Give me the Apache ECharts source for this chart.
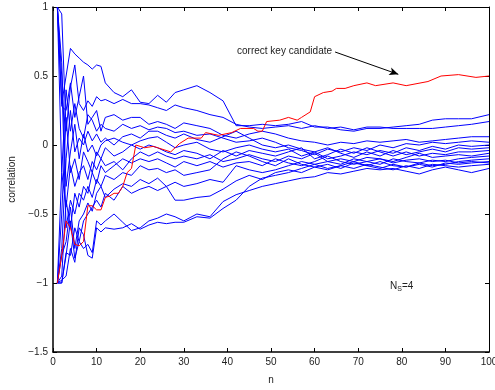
<!DOCTYPE html>
<html>
<head>
<meta charset="utf-8">
<script src="https://cdn.jsdelivr.net/npm/echarts@6/dist/echarts.min.js"></script>
<style>
html,body{margin:0;padding:0;background:#fff;}
#chart{width:495px;height:390px;}
</style>
</head>
<body>
<div id="chart"></div>
<script>
// shared n grid for the blue (wrong key) candidates
const nGrid = [1,2,3,4,5,6,7,8,9,10,11,12,14,16,18,20,22,24,26,28,30,33,36,39,42,45,48,51,54,57,60,63,66,69,72,75,78,81,84,87,90,93,96,100];

const blue1 = [1,0.3,0.5,0.7,0.66,0.63,0.6,0.58,0.55,0.58,0.57,0.45, 0.38,0.35,0.4,0.31,0.3,0.36,0.31,0.38,0.4, 0.43,0.38,0.32,0.14,0.14,0.15,0.14,0.15,0.17,0.13,0.13,0.11,0.1,0.12,0.12,0.13,0.14,0.15,0.18,0.19,0.19,0.19,0.22];
const blue2 = [1,0.95,0.1,0.42,0.58,0.3,0.25,0.32,0.28,0.35,0.32,0.33, 0.3,0.33,0.3,0.3,0.29,0.27,0.25,0.29,0.27, 0.25,0.22,0.2,0.15,0.13,0.12,0.13,0.14,0.12,0.14,0.12,0.13,0.11,0.13,0.13,0.12,0.12,0.12,0.12,0.13,0.14,0.15,0.17];
const blue3 = [1,0.28,0.25,0.45,0.2,0.35,0.5,0.15,0.2,0.25,0.1,0.2, 0.22,0.18,0.2,0.2,0.15,0.17,0.15,0.12,0.16, 0.14,0.12,0.07,0.05,0.08,0.1,0.08,0.05,0.03,0.02,0.0,0.02,0.01,0.03,0.02,0.03,0.04,0.02,0.03,0.04,0.05,0.06,0.06];
const blue4 = [-1,-0.2,0.4,0.1,0.3,0.12,0.05,0.22,0.18,0.1,0.15,0.12, 0.1,0.15,0.12,0.14,0.11,0.13,0.12,0.09,0.1, 0.07,0.08,0.05,0.02,0.03,0.05,0.02,-0.02,-0.04,-0.07,-0.03,-0.05,-0.02,-0.04,0.0,-0.02,0.01,0.0,0.02,0.01,0.02,0.03,0.02];
const blue5 = [-1,-0.75,-0.1,0.25,-0.05,0.05,0.0,0.1,0.03,0.08,0.02,0.05, 0.0,0.06,0.08,0.05,0.1,0.1,0.07,0.05,0.08, 0.04,0.02,0.06,0.1,0.05,0.0,-0.02,0.0,-0.03,-0.05,-0.1,-0.08,-0.05,-0.07,-0.04,-0.06,-0.02,-0.04,-0.01,-0.03,0.0,-0.01,0.0];
const blue6 = [1,0.6,-0.3,-0.05,0.15,-0.1,0.08,-0.05,0.0,-0.08,0.0,0.03, 0.05,0.02,0.0,0.03,0.05,0.06,0.02,-0.02,0.0, 0.02,-0.03,-0.05,-0.02,0.0,-0.03,-0.05,-0.03,-0.08,-0.05,-0.02,-0.06,-0.09,-0.05,-0.08,-0.04,-0.07,-0.05,-0.03,-0.05,-0.02,-0.03,-0.02];
const blue7 = [-1,-0.5,0.2,-0.2,-0.1,-0.25,-0.05,-0.12,-0.2,-0.05,-0.1,-0.02, -0.08,-0.05,0.0,-0.03,0.0,-0.02,-0.05,-0.07,-0.04, -0.06,-0.1,-0.04,-0.08,-0.04,-0.06,-0.08,-0.05,-0.02,-0.1,-0.07,-0.03,-0.06,-0.02,-0.05,-0.08,-0.05,-0.08,-0.06,-0.07,-0.05,-0.05,-0.04];
const blue8 = [1,-0.2,-0.45,-0.15,-0.3,-0.2,-0.15,-0.25,-0.12,-0.18,-0.1,-0.15, -0.12,-0.18,-0.1,-0.05,-0.08,-0.05,-0.08,-0.1,-0.08, -0.1,-0.07,-0.12,-0.1,-0.07,-0.1,-0.12,-0.08,-0.1,-0.06,-0.12,-0.1,-0.12,-0.09,-0.1,-0.12,-0.09,-0.06,-0.09,-0.08,-0.07,-0.08,-0.06];
const blue9 = [-1,-0.95,-0.4,-0.6,-0.35,-0.45,-0.3,-0.35,-0.2,-0.28,-0.15,-0.2, -0.15,-0.1,-0.13,-0.1,-0.12,-0.1,-0.13,-0.16,-0.12, -0.15,-0.12,-0.16,-0.13,-0.12,-0.15,-0.1,-0.13,-0.15,-0.12,-0.08,-0.12,-0.14,-0.12,-0.14,-0.1,-0.12,-0.13,-0.11,-0.12,-0.1,-0.09,-0.08];
const blue10 = [1,0.5,-0.6,-0.4,-0.5,-0.35,-0.4,-0.3,-0.38,-0.25,-0.3,-0.22, -0.25,-0.2,-0.22,-0.15,-0.18,-0.17,-0.2,-0.18,-0.22, -0.2,-0.18,-0.1,-0.05,-0.08,-0.12,-0.15,-0.1,-0.14,-0.16,-0.14,-0.17,-0.13,-0.15,-0.12,-0.15,-0.16,-0.13,-0.15,-0.14,-0.12,-0.11,-0.1];
const blue11 = [-1,-0.8,-0.7,-0.45,-0.75,-0.55,-0.5,-0.42,-0.48,-0.35,-0.3,-0.38, -0.32,-0.28,-0.3,-0.25,-0.28,-0.24,-0.3,-0.27,-0.3, -0.28,-0.25,-0.27,-0.15,-0.18,-0.2,-0.18,-0.15,-0.12,-0.14,-0.17,-0.15,-0.12,-0.15,-0.17,-0.14,-0.16,-0.14,-0.16,-0.13,-0.14,-0.13,-0.12];
const blue12 = [-1,-1,-0.78,-0.8,-0.6,-0.7,-0.55,-0.5,-0.45,-0.4,-0.45,-0.35, -0.4,-0.3,-0.35,-0.32,-0.3,-0.33,-0.3,-0.4,-0.4, -0.38,-0.37,-0.32,-0.26,-0.22,-0.25,-0.2,-0.18,-0.2,-0.16,-0.18,-0.15,-0.17,-0.14,-0.16,-0.18,-0.15,-0.17,-0.14,-0.15,-0.16,-0.15,-0.14];
const blue13 = [-1,-1,-0.8,-0.55,-0.82,-0.7,-0.75,-0.72,-0.78,-0.55,-0.58,-0.55, -0.5,-0.56,-0.62,-0.6,-0.55,-0.53,-0.5,-0.52,-0.55, -0.5,-0.52,-0.41,-0.36,-0.33,-0.3,-0.28,-0.26,-0.24,-0.23,-0.2,-0.21,-0.19,-0.17,-0.18,-0.17,-0.19,-0.21,-0.18,-0.16,-0.18,-0.2,-0.17];
const blue14 = [-1,-0.98,-0.95,-0.75,-0.85,-0.6,-0.65,-0.8,-0.82,-0.6,-0.63,-0.6, -0.61,-0.6,-0.57,-0.61,-0.58,-0.56,-0.57,-0.56,-0.56, -0.52,-0.53,-0.46,-0.4,-0.3,-0.24,-0.22,-0.2,-0.17,-0.14,-0.12,-0.14,-0.1,-0.12,-0.1,-0.13,-0.11,-0.1,-0.12,-0.11,-0.13,-0.12,-0.13];

// correct key candidate (red)
const redN = [1,2,3,4,5,6,7,8,9,10,11,12,13,14,15,16,17,18,19,20,21,23,25,27,29,31,34,35,38,41,43,46,47,48,49,52,54,56,57,59,60,62,64,65,67,69,72,74,78,81,86,89,93,97,100];
const redV = [-1,-0.8,-0.55,-0.6,-0.72,-0.73,-0.7,-0.44,-0.44,-0.47,-0.47,-0.38,-0.37,-0.35,-0.35,-0.3,-0.2,-0.17,0.0,-0.01,-0.02, -0.01,-0.03,-0.05,0.01,0.05, 0.05,0.09,0.07,0.09,0.12, 0.12,0.1,0.1,0.17, 0.18,0.2,0.18,0.2,0.24,0.35, 0.38,0.39,0.41,0.41,0.43, 0.45,0.43,0.45,0.43,0.46,0.5,0.51,0.49,0.5];

const yTicks = [-1.5,-1,-0.5,0,0.5,1];
const xTicks = [0,10,20,30,40,50,60,70,80,90,100];

const blueList = [blue1,blue2,blue3,blue4,blue5,blue6,blue7,blue8,blue9,blue10,blue11,blue12,blue13,blue14];

const FONT = 'Liberation Sans, Arial, Helvetica, sans-serif';
const TXT = '#222';

function pairs(xa, ya){ return xa.map((x,i)=>[x, ya[i]]); }

const series = blueList.map(v => ({
  type:'line', data: pairs(nGrid, v), symbol:'none', showSymbol:false,
  lineStyle:{color:'#0000ff', width:1}, z:2, silent:true
}));

series.push({
  type:'line', data: pairs(redN, redV), symbol:'none', showSymbol:false,
  lineStyle:{color:'#ff0000', width:1}, z:3, silent:true,
  markLine:{
    silent:true, symbol:['none','arrow'], symbolSize:[6,9],
    lineStyle:{color:'#000', width:1, type:'solid'},
    label:{show:false},
    data:[[{coord:[64.7,0.674]},{coord:[79.2,0.512]}]]
  },
  markPoint:{
    silent:true,
    data:[
      {coord:[42.2,0.68], symbol:'circle', symbolSize:0,
       label:{show:true, position:'right', distance:0, formatter:'correct key candidate', color:TXT, fontSize:10, fontFamily:FONT}},
      {coord:[77.3,-1.02], symbol:'circle', symbolSize:0,
       label:{show:true, position:'right', distance:0, formatter:'{a|N}{b|S}{a|=4}',
        rich:{a:{fontSize:10, color:TXT, fontFamily:FONT}, b:{fontSize:7, color:TXT, fontFamily:FONT, padding:[6,0,0,0]}}}}
    ]
  }
});

const chart = echarts.init(document.getElementById('chart'), null, {renderer:'canvas'});
chart.setOption({
  animation:false,
  backgroundColor:'#fff',
  grid:{left:53, right:6, top:7, bottom:38, containLabel:false, outerBoundsMode:'none'},
  xAxis:[{
    type:'value', min:0, max:100, interval:10, position:'bottom',
    name:'n', nameLocation:'middle', nameGap:23,
    nameTextStyle:{color:TXT, fontSize:10, fontFamily:FONT},
    axisLine:{show:true, onZero:false, lineStyle:{color:'#000', width:1.5}},
    axisTick:{show:true, inside:true, length:4, lineStyle:{color:'#000', width:1}},
    axisLabel:{color:TXT, fontSize:10, fontFamily:FONT, margin:5, hideOverlap:false,
      formatter: v => xTicks.includes(v) ? String(v) : ''},
    splitLine:{show:false}
  },{
    type:'value', min:0, max:100, interval:10, position:'top',
    axisLine:{show:true, onZero:false, lineStyle:{color:'#000', width:1}},
    axisTick:{show:true, inside:true, length:4, lineStyle:{color:'#000', width:1}},
    axisLabel:{show:false}, splitLine:{show:false}
  }],
  yAxis:[{
    type:'value', min:-1.5, max:1, interval:0.5, position:'left',
    name:'correlation', nameLocation:'middle', nameGap:33,
    nameTextStyle:{color:TXT, fontSize:10, fontFamily:FONT},
    axisLine:{show:true, onZero:false, lineStyle:{color:'#000', width:1.5}},
    axisTick:{show:true, inside:true, length:4, lineStyle:{color:'#000', width:1}},
    axisLabel:{color:TXT, fontSize:10, fontFamily:FONT, margin:5,
      formatter: v => yTicks.includes(v) ? String(v).replace('-', '\u2212') : ''},
    splitLine:{show:false}
  },{
    type:'value', min:-1.5, max:1, interval:0.5, position:'right',
    axisLine:{show:true, onZero:false, lineStyle:{color:'#000', width:1}},
    axisTick:{show:true, inside:true, length:4, lineStyle:{color:'#000', width:1}},
    axisLabel:{show:false}, splitLine:{show:false}
  }],
  series: series
});
</script>
</body>
</html>
